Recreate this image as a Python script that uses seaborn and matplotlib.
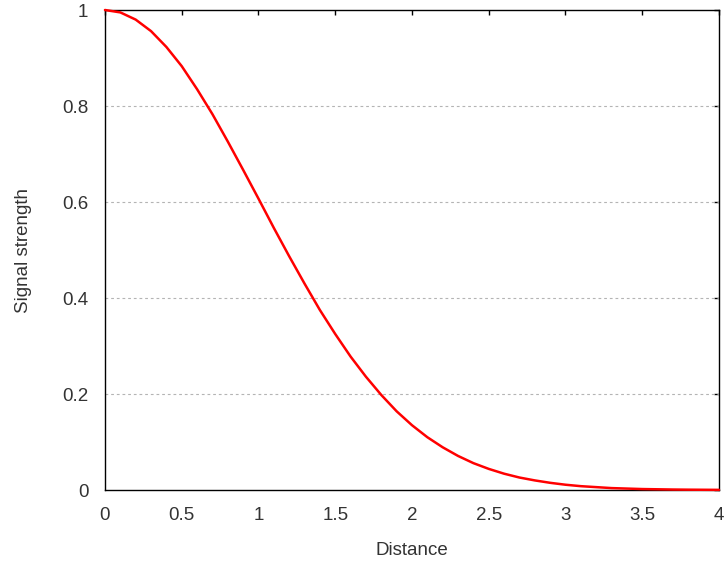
import matplotlib
matplotlib.use("Agg")
import matplotlib.pyplot as plt
import matplotlib.ticker as mticker
import pandas as pd
import seaborn as sns

# Measured signal strength versus distance
distance = [0.0, 0.1, 0.2, 0.3, 0.4, 0.5, 0.6, 0.7, 0.8, 0.9,
            1.0, 1.1, 1.2, 1.3, 1.4, 1.5, 1.6, 1.7, 1.8, 1.9,
            2.0, 2.1, 2.2, 2.3, 2.4, 2.5, 2.6, 2.7, 2.8, 2.9,
            3.0, 3.1, 3.2, 3.3, 3.4, 3.5, 3.6, 3.7, 3.8, 3.9, 4.0]
strength = [1.000, 0.995, 0.980, 0.956, 0.923, 0.883, 0.835, 0.783, 0.726, 0.667,
            0.607, 0.546, 0.487, 0.430, 0.375, 0.325, 0.278, 0.236, 0.198, 0.164,
            0.135, 0.110, 0.089, 0.071, 0.056, 0.044, 0.034, 0.026, 0.020, 0.015,
            0.011, 0.008, 0.006, 0.004, 0.003, 0.002, 0.0015, 0.001, 0.0007, 0.0005, 0.0003]

x_ticks = [0, 0.5, 1, 1.5, 2, 2.5, 3, 3.5, 4]
y_ticks = [0, 0.2, 0.4, 0.6, 0.8, 1]

df = pd.DataFrame({"Distance": distance, "Signal strength": strength})

sns.set_style("white")
plt.rcParams["font.family"] = ["Liberation Sans", "DejaVu Sans"]
plt.rcParams["font.size"] = 13.5

fig = plt.figure(figsize=(7.25, 5.62), dpi=100)
ax = fig.add_axes([0.1448, 0.1281, 0.9917 - 0.1448, 0.9822 - 0.1281])

sns.lineplot(data=df, x="Distance", y="Signal strength", ax=ax,
             color="#ff0000", linewidth=1.8, zorder=3, clip_on=False)

ax.set_xlim(0, 4)
ax.set_ylim(0, 1)
ax.set_xticks(x_ticks)
ax.set_yticks(y_ticks)
fmt = mticker.FormatStrFormatter("%g")
ax.xaxis.set_major_formatter(fmt)
ax.yaxis.set_major_formatter(fmt)

# horizontal dotted grid only, between the frame edges
for yv in y_ticks[1:-1]:
    ax.axhline(yv, color="#b4b4b4", linestyle=(0, (2.5, 2.6)), linewidth=0.8, zorder=1)

for side in ["left", "right", "top", "bottom"]:
    ax.spines[side].set_visible(True)
    ax.spines[side].set_color("black")
    ax.spines[side].set_linewidth(1.0)

ax.tick_params(axis="both", which="major", direction="in", length=3.6, width=1,
               color="black", labelcolor="#333333", labelsize=13.5,
               top=True, right=True)
ax.tick_params(axis="y", pad=12)
ax.tick_params(axis="x", pad=12)

ax.set_xlabel("Distance", fontsize=13.5, color="#333333", labelpad=13)
ax.set_ylabel("Signal strength", fontsize=13.5, color="#333333", labelpad=22)

fig.savefig("out.png", dpi=100)
